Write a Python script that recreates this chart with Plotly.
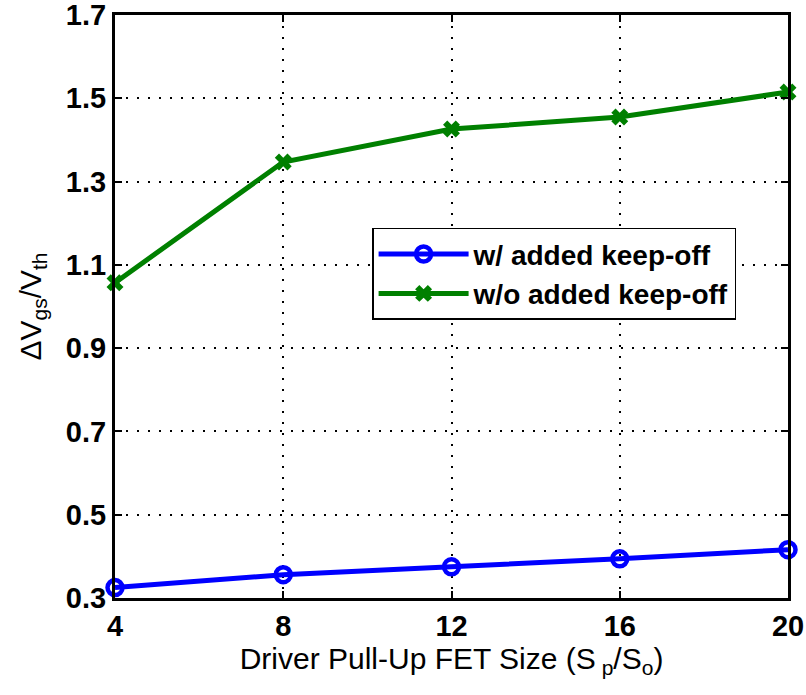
import plotly.graph_objects as go

x_vals = [4, 8, 12, 16, 20]
with_keepoff = [0.325, 0.356, 0.375, 0.394, 0.416]
without_keepoff = [1.057, 1.347, 1.426, 1.455, 1.515]
series_names = ["w/ added keep-off", "w/o added keep-off"]
x_ticks = [4, 8, 12, 16, 20]
y_ticks = [0.3, 0.5, 0.7, 0.9, 1.1, 1.3, 1.5, 1.7]

FONT = "Arial, Liberation Sans, Helvetica"

fig = go.Figure()
fig.add_trace(go.Scatter(
    x=x_vals, y=with_keepoff, name=series_names[0], mode="lines+markers",
    line=dict(color="rgb(0,0,255)", width=5),
    marker=dict(symbol="circle-open", size=15, color="rgb(0,0,255)", line=dict(width=4.5, color="rgb(0,0,255)")),
    cliponaxis=False,
))
fig.add_trace(go.Scatter(
    x=x_vals, y=without_keepoff, name=series_names[1], mode="lines+markers",
    line=dict(color="rgb(0,128,0)", width=5),
    marker=dict(symbol="x", size=15, color="rgb(0,128,0)", line=dict(width=0)),
    cliponaxis=False,
))

axis_common = dict(
    showline=True, linecolor="black", linewidth=3, mirror="ticks",
    ticks="inside", ticklen=7, tickwidth=2, tickcolor="black",
    showgrid=True, gridcolor="black", griddash="2px,9px", gridwidth=1.5,
    zeroline=False, ticklabeloverflow="allow", automargin=False,
    tickfont=dict(family=FONT, size=29, color="black", weight="bold"),
)

fig.update_xaxes(
    range=[4, 20], tickvals=x_ticks, ticktext=[str(t) for t in x_ticks],
    title=dict(text="Driver Pull-Up FET Size (S<sub> p</sub>/S<sub>o</sub>)",
               font=dict(family=FONT, size=30, color="black"), standoff=4),
    **axis_common,
)
fig.update_yaxes(
    range=[0.3, 1.7], tickvals=y_ticks, ticktext=[f"{t:.1f}" for t in y_ticks],
    title=dict(text="ΔV<sub>gs</sub>/V<sub>th</sub>",
               font=dict(family=FONT, size=30, color="black"), standoff=16),
    **axis_common,
)

fig.update_layout(
    width=806, height=695,
    margin=dict(l=115, r=18, t=15, b=97),
    plot_bgcolor="white", paper_bgcolor="white",
    showlegend=True,
    legend=dict(
        x=0.382, y=0.635, xanchor="left", yanchor="top",
        bgcolor="white", bordercolor="black", borderwidth=1.5,
        font=dict(family=FONT, size=28, color="black", weight="bold"),
        itemwidth=90, tracegroupgap=0,
    ),
)

fig.write_html("out.html")
